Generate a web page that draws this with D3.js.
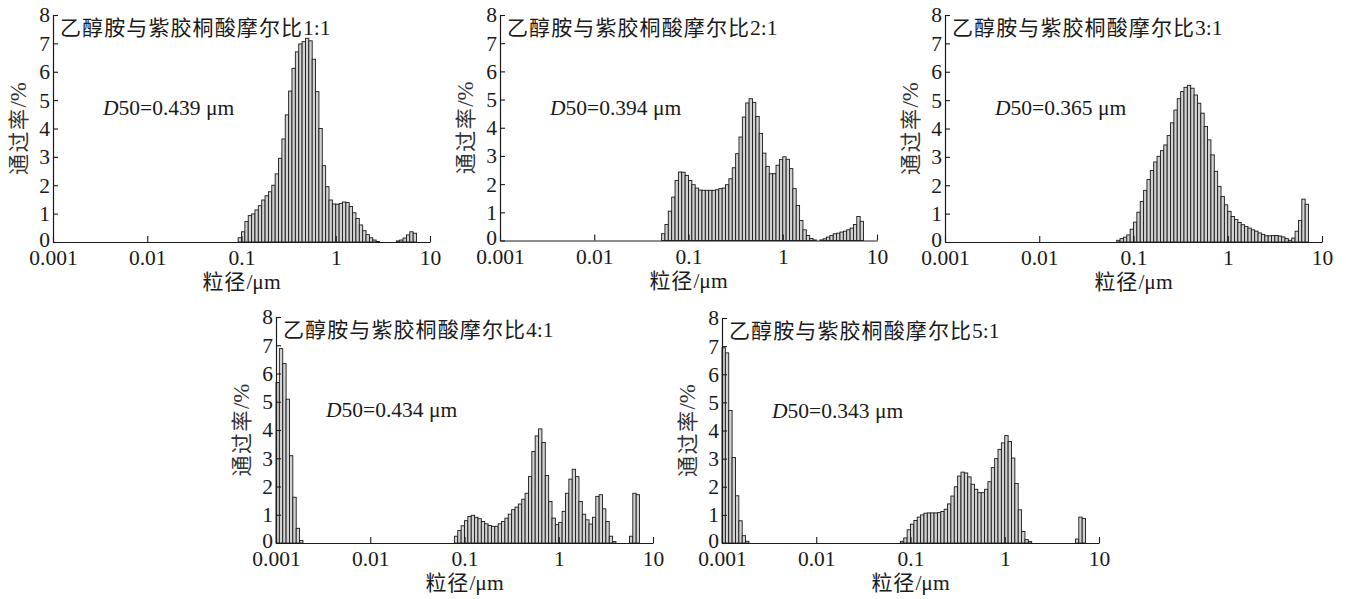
<!DOCTYPE html>
<html><head><meta charset="utf-8">
<script src="https://cdn.jsdelivr.net/npm/d3@7"></script>
<style>
html,body{margin:0;padding:0;background:#fff;}
svg{display:block;}
</style></head>
<body>
<svg id="chart" width="1346" height="599"></svg>
<script>
// ---------- data ----------
const binsPerDecade = 28;          // log-spaced size classes
const binCount = 108;
const minSize = 0.001;             // µm, lower edge of first class

const xTicks = [0.001, 0.01, 0.1, 1, 10];
const xTickLabels = ["0.001", "0.01", "0.1", "1", "10"];
const yTicks = [0, 1, 2, 3, 4, 5, 6, 7, 8];

const titlePrefix = "乙醇胺与紫胶桐酸摩尔比";
const ratios = ["1:1", "2:1", "3:1", "4:1", "5:1"];
const d50Values = ["0.439", "0.394", "0.365", "0.434", "0.343"];
const xTitle = ["粒径", "/μm"];
const yTitle = ["通过率", "/%"];

// each series: [first size-class index, values (%)]
const ratio1 = [
  [55, [0.15, 0.36, 0.72, 0.93, 0.99, 1.13, 1.28, 1.48, 1.63, 1.77, 2.0, 2.4, 2.95, 3.63, 4.48, 5.32, 6.12, 6.7, 6.98, 7.06, 7.18, 7.09, 6.44, 5.3, 4.0, 2.69, 1.95, 1.48, 1.34, 1.33, 1.36, 1.41, 1.39, 1.25, 1.03, 0.83, 0.6, 0.4, 0.26, 0.15, 0.07, 0.02]],
  [102, [0.04, 0.07, 0.14, 0.25, 0.36, 0.31]]
];
const ratio2 = [
  [48, [0.24, 0.57, 1.04, 1.54, 2.13, 2.43, 2.42, 2.31, 2.13, 1.98, 1.86, 1.79, 1.78, 1.78, 1.78, 1.78, 1.8, 1.84, 1.86, 1.98, 2.19, 2.58, 3.08, 3.67, 4.38, 4.88, 5.03, 4.9, 4.4, 3.8, 3.1, 2.63, 2.37, 2.37, 2.67, 2.87, 2.97, 2.88, 2.55, 1.84, 1.24, 0.71, 0.38, 0.18, 0.07, 0.02]],
  [95, [0.02, 0.06, 0.12, 0.18, 0.24, 0.26, 0.3, 0.33, 0.38, 0.44, 0.57, 0.85, 0.68]]
];
const ratio3 = [
  [51, [0.06, 0.12, 0.17, 0.25, 0.45, 0.7, 1.05, 1.43, 1.82, 2.2, 2.52, 2.82, 3.02, 3.22, 3.42, 3.75, 4.2, 4.65, 5.05, 5.3, 5.45, 5.52, 5.42, 5.18, 4.89, 4.54, 4.07, 3.6, 3.07, 2.49, 1.96, 1.6, 1.31, 1.08, 0.9, 0.79, 0.69, 0.61, 0.55, 0.49, 0.43, 0.38, 0.32, 0.27, 0.22, 0.22, 0.23, 0.23, 0.21, 0.18, 0.12, 0.06, 0.14, 0.38, 0.76, 1.51, 1.33]]
];
const ratio4 = [
  [0, [5.68, 6.88, 6.35, 5.09, 3.09, 1.62, 0.52, 0.09]],
  [53, [0.24, 0.44, 0.61, 0.79, 0.94, 0.98, 0.91, 0.86, 0.76, 0.68, 0.62, 0.59, 0.59, 0.68, 0.76, 0.88, 1.02, 1.18, 1.27, 1.38, 1.55, 1.76, 2.35, 3.24, 3.79, 4.04, 3.56, 2.39, 1.47, 0.88, 0.65, 0.73, 1.12, 1.76, 2.26, 2.61, 2.35, 1.47, 1.02, 0.82, 0.67, 0.91, 1.65, 1.71, 1.21, 0.76, 0.24, 0.05]],
  [105, [0.24, 1.76, 1.71]]
];
const ratio5 = [
  [0, [6.94, 6.76, 4.71, 3.04, 1.68, 0.79, 0.26, 0.06]],
  [53, [0.06, 0.18, 0.47, 0.67, 0.8, 0.92, 1.0, 1.06, 1.07, 1.07, 1.07, 1.08, 1.12, 1.2, 1.39, 1.67, 2.0, 2.38, 2.52, 2.49, 2.35, 2.09, 1.91, 1.79, 1.79, 1.91, 2.18, 2.68, 3.0, 3.33, 3.56, 3.82, 3.61, 3.02, 2.12, 1.18, 0.41, 0.12, 0.05]],
  [105, [0.14, 0.92, 0.87]]
];
const seriesList = [ratio1, ratio2, ratio3, ratio4, ratio5];

// ---------- layout ----------
const panelLayout = [
  {x: 53,  top: 15,  bottom: 242},
  {x: 500, top: 15,  bottom: 240.5},
  {x: 945, top: 15,  bottom: 242},
  {x: 276, top: 317, bottom: 543},
  {x: 722, top: 318, bottom: 543}
];
const plotW = 377;
const serif = "'Liberation Serif','Times New Roman',serif";
const cjk = "'Noto Sans CJK SC','Noto Sans CJK JP',sans-serif";
const ink = "#1a1a1a";

const svg = d3.select("#chart");
const edges = d3.range(binCount + 1).map(i => minSize * Math.pow(10, i / binsPerDecade));

function expand(segs) {
  const out = [];
  segs.forEach(([s, vals]) => vals.forEach((v, j) => out.push({bin: s + j, value: v})));
  return out;
}

panelLayout.forEach((L, k) => {
  const g = svg.append("g");
  const x = d3.scaleLog().domain([0.001, 10]).range([L.x, L.x + plotW]);
  const y = d3.scaleLinear().domain([0, 8]).range([L.bottom, L.top]);
  const bars = expand(seriesList[k]).filter(d => d.value > 0);

  g.append("g").selectAll("rect").data(bars).join("rect")
    .attr("x", d => x(edges[d.bin]))
    .attr("width", d => x(edges[d.bin + 1]) - x(edges[d.bin]))
    .attr("y", d => y(d.value))
    .attr("height", d => y(0) - y(d.value))
    .attr("fill", "#d2d2d2")
    .attr("stroke", "#1a1a1a")
    .attr("stroke-width", 0.9);

  const xAxis = d3.axisBottom(x).tickValues(xTicks)
    .tickFormat((d, i) => xTickLabels[i]).tickSize(-6).tickSizeOuter(0).tickPadding(8);
  const gx = g.append("g").attr("transform", `translate(0,${L.bottom})`).call(xAxis);
  const yAxis = d3.axisLeft(y).tickValues(yTicks).tickSize(-5).tickSizeOuter(0).tickPadding(3);
  const gy = g.append("g").attr("transform", `translate(${L.x},0)`).call(yAxis);
  [gx, gy].forEach(a => {
    a.selectAll("path.domain").attr("stroke", ink).attr("stroke-width", 1.2);
    a.selectAll(".tick line").attr("stroke", ink).attr("stroke-width", 1.1);
    a.selectAll("text").attr("font-family", serif).attr("font-size", 21.5).attr("fill", ink);
  });
  // the "0" label sits a touch higher so it clears the x labels below it
  gy.selectAll(".tick").filter(d => d === 0).select("text").attr("dy", "0.2em");

  // panel title
  const t = g.append("text").attr("x", L.x + 7).attr("y", L.top + 20).attr("fill", ink);
  t.append("tspan").attr("font-family", cjk).attr("font-size", 21).attr("letter-spacing", 1.1).text(titlePrefix);
  t.append("tspan").attr("font-family", serif).attr("font-size", 21.5).text(ratios[k]);

  // D50 annotation
  const d = g.append("text").attr("x", L.x + 50).attr("y", L.top + 100)
    .attr("font-family", serif).attr("font-size", 21.5).attr("fill", ink);
  d.append("tspan").attr("font-style", "italic").text("D");
  d.append("tspan").text(`50=${d50Values[k]} μm`);

  // x title
  const xt = g.append("text").attr("x", L.x + plotW / 2).attr("y", L.bottom + 47)
    .attr("text-anchor", "middle").attr("fill", ink);
  xt.append("tspan").attr("font-family", cjk).attr("font-size", 21).attr("letter-spacing", 1).text(xTitle[0]);
  xt.append("tspan").attr("font-family", serif).attr("font-size", 21.5).text(xTitle[1]);

  // y title
  const cy = (L.top + L.bottom) / 2;
  const yt = g.append("text")
    .attr("transform", `translate(${L.x - 27},${cy}) rotate(-90)`)
    .attr("text-anchor", "middle").attr("fill", "#333");
  yt.append("tspan").attr("font-family", cjk).attr("font-size", 21).attr("letter-spacing", 1.5).text(yTitle[0]);
  yt.append("tspan").attr("font-family", serif).attr("font-size", 23).text(yTitle[1]);
});
</script>
</body></html>
